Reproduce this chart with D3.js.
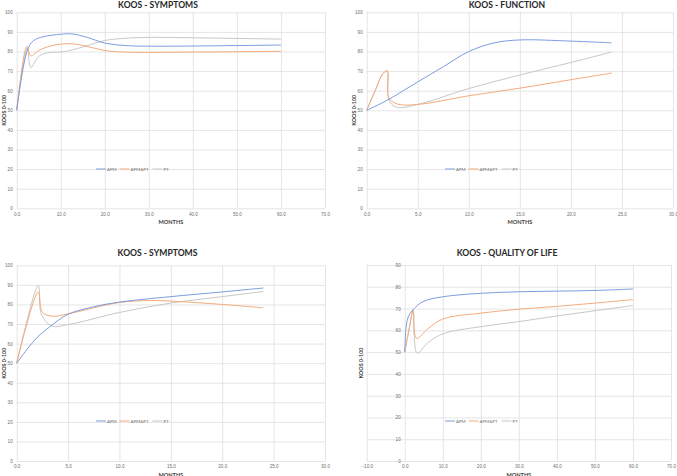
<!DOCTYPE html>
<html>
<head>
<meta charset="utf-8">
<script src="https://cdn.jsdelivr.net/npm/d3@7"></script>
<style>
  body { margin: 0; background: #fff; }
  svg { display: block; font-family: Lato, "Open Sans", sans-serif; }
</style>
</head>
<body>
<svg width="677" height="476"></svg>
<script>
const seriesNames = ["APM", "APM&PT", "PT"];
const seriesColors = ["#7c9ddf", "#f5ab7c", "#c8c8c8"];

// KOOS - Symptoms, 60 months  [month, score]
const sym60Apm = [[0, 50], [2.4, 80.5], [3.8, 85.5], [6, 87.5], [10, 88.8], [12.5, 89], [16, 87.2], [20, 84.3], [25, 83], [30, 82.7], [60, 83.3]];
const sym60ApmPt = [[0, 50], [2.3, 82.6], [3.2, 77.8], [5, 80.5], [8, 83], [12, 84], [16, 82.6], [20, 80.5], [25, 79.7], [40, 79.7], [60, 80.1]];
const sym60Pt = [[0, 50], [2.4, 81.8], [3.2, 71.8], [5, 77.5], [7, 79.3], [11, 80], [15, 82.3], [20, 85.6], [25, 86.8], [30, 87.2], [40, 87], [60, 86.3]];

// KOOS - Function, 24 months
const fun24Apm = [[0, 50], [2, 55.1], [5, 64.5], [7.5, 72.2], [10, 80], [12.5, 84.4], [15, 85.9], [20, 85.3], [24, 84.4]];
const fun24ApmPt = [[0, 50], [0.85, 60.3], [1.5, 68], [2, 70.2], [2.15, 56.5], [3, 53.2], [5, 53], [10, 57.4], [15, 61.3], [20, 65.6], [24, 69]];
const fun24Pt = [[0, 50], [0.85, 60.3], [1.5, 68], [2, 70.2], [2.2, 55], [2.9, 51.6], [5, 53], [10, 61.1], [15, 68], [20, 74.4], [24, 79.7]];

// KOOS - Symptoms, 24 months
const sym24Apm = [[0, 50], [1, 57], [2, 63.2], [3.2, 68.5], [5, 75], [7.5, 78.8], [10, 81.2], [15, 84], [20, 86.4], [24, 88.4]];
const sym24ApmPt = [[0, 50], [2.1, 86.5], [2.5, 76], [3.5, 74], [5, 75.2], [10, 81], [13, 82], [15, 81.7], [20, 80], [24, 78.3]];
const sym24Pt = [[0, 50], [2.1, 89.8], [2.4, 75], [3.4, 69], [5, 69.7], [10, 75.9], [15, 80.7], [20, 84], [24, 86.6]];

// KOOS - Quality of life, 60 months
const qol60Apm = [[0, 50], [0.4, 62], [1, 66.5], [2.2, 69.5], [4.8, 73.2], [10, 75.4], [20, 77], [30, 77.7], [40, 78], [50, 78.3], [60, 79]];
const qol60ApmPt = [[0, 50], [1.3, 62], [2.2, 69.3], [3.1, 56.3], [6, 60.6], [10, 65.2], [20, 67.9], [30, 69.7], [40, 71], [50, 72.5], [60, 74.1]];
const qol60Pt = [[0, 50], [1.3, 62], [2.2, 69.3], [2.45, 58], [3.3, 49.5], [6, 54.2], [10, 58.4], [20, 61.7], [30, 64], [40, 66.6], [50, 69], [60, 71.4]];

const panels = [
  {title: "KOOS - SYMPTOMS", series: [sym60Apm, sym60ApmPt, sym60Pt],
   xDomain: [0, 70], xStep: 10, yDomain: [0, 100],
   x0: 16.7, x1: 325, y0: 208.3, y1: 12.3,
   titleX: 158, titleY: 7.5, xLabY: 223.5, yLabX: 4, legX: 96, legY: 169},
  {title: "KOOS - FUNCTION", series: [fun24Apm, fun24ApmPt, fun24Pt],
   xDomain: [0, 30], xStep: 5, yDomain: [0, 100],
   x0: 366.7, x1: 673, y0: 208.3, y1: 12.3,
   titleX: 507, titleY: 7.5, xLabY: 223.5, yLabX: 354, legX: 445, legY: 169},
  {title: "KOOS - SYMPTOMS", series: [sym24Apm, sym24ApmPt, sym24Pt],
   xDomain: [0, 30], xStep: 5, yDomain: [0, 100],
   x0: 16.7, x1: 325, y0: 461, y1: 265.3,
   titleX: 157.5, titleY: 255.5, xLabY: 476.5, yLabX: 4, legX: 96, legY: 421},
  {title: "KOOS - QUALITY OF LIFE", series: [qol60Apm, qol60ApmPt, qol60Pt],
   xDomain: [-10, 70], xStep: 10, yDomain: [0, 90],
   x0: 366.7, x1: 671, y0: 461, y1: 265,
   titleX: 507, titleY: 255.5, xLabY: 476.5, yLabX: 361, legX: 445, legY: 421}
];

const svg = d3.select("svg");

panels.forEach(p => {
  const g = svg.append("g");

  const x = d3.scaleLinear().domain(p.xDomain).range([p.x0, p.x1]);
  const y = d3.scaleLinear().domain(p.yDomain).range([p.y0, p.y1]);

  const xTicks = d3.range(p.xDomain[0], p.xDomain[1] + 0.001, p.xStep);
  const yTicks = d3.range(p.yDomain[0], p.yDomain[1] + 0.001, 10);

  // vertical gridlines + month labels
  g.append("g")
    .attr("transform", `translate(0,${p.y0})`)
    .call(d3.axisBottom(x).tickValues(xTicks).tickSize(-(p.y0 - p.y1)).tickFormat(d3.format(".1f")).tickPadding(4))
    .call(a => a.select(".domain").remove())
    .call(a => a.selectAll("line").attr("stroke", "#dedede").attr("stroke-width", 0.8))
    .call(a => a.selectAll("text").attr("fill", "#6e6e6e").attr("font-size", "4.6px").attr("font-family", null));

  // horizontal gridlines, labels sit next to x = 0
  const yAxisX = x(0);
  g.append("g")
    .attr("transform", `translate(${p.x0},0)`)
    .call(d3.axisLeft(y).tickValues(yTicks).tickSize(-(p.x1 - p.x0)).tickFormat(d3.format("d")).tickPadding(0))
    .call(a => a.select(".domain").remove())
    .call(a => a.selectAll("line").attr("stroke", "#dedede").attr("stroke-width", 0.8))
    .call(a => a.selectAll("text")
      .attr("x", yAxisX - p.x0 - 4)
      .attr("fill", "#6e6e6e").attr("font-size", "4.6px").attr("font-family", null));

  // smoothed lines
  const line = d3.line()
    .x(d => x(d[0]))
    .y(d => y(d[1]))
    .curve(d3.curveCatmullRom.alpha(0.5));

  [2, 1, 0].forEach(i => {
    g.append("path")
      .datum(p.series[i])
      .attr("d", line)
      .attr("fill", "none")
      .attr("stroke", seriesColors[i])
      .attr("stroke-width", 1);
  });

  g.append("text")
    .attr("x", p.titleX)
    .attr("y", p.titleY)
    .attr("text-anchor", "middle")
    .attr("font-size", "8.6px")
    .attr("font-weight", "bold")
    .attr("fill", "#262626")
    .text(p.title);

  g.append("text")
    .attr("x", (p.x0 + p.x1) / 2)
    .attr("y", p.xLabY)
    .attr("text-anchor", "middle")
    .attr("font-size", "5.6px")
    .attr("font-weight", "bold")
    .attr("fill", "#404040")
    .text("MONTHS");

  g.append("text")
    .attr("transform", `translate(${p.yLabX},${(p.y0 + p.y1) / 2}) rotate(-90)`)
    .attr("text-anchor", "middle")
    .attr("dy", "0.35em")
    .attr("font-size", "5.4px")
    .attr("font-weight", "bold")
    .attr("fill", "#404040")
    .text("KOOS 0-100");

  // legend
  const legOffsets = [0, 23.5, 56.5];
  seriesNames.forEach((name, i) => {
    const lx = p.legX + legOffsets[i];
    g.append("line")
      .attr("x1", lx).attr("x2", lx + 10)
      .attr("y1", p.legY).attr("y2", p.legY)
      .attr("stroke", seriesColors[i])
      .attr("stroke-width", 1);
    g.append("text")
      .attr("x", lx + 11)
      .attr("y", p.legY)
      .attr("dy", "0.35em")
      .attr("font-size", "4.4px")
      .attr("fill", "#6e6e6e")
      .text(name);
  });
});
</script>
</body>
</html>
